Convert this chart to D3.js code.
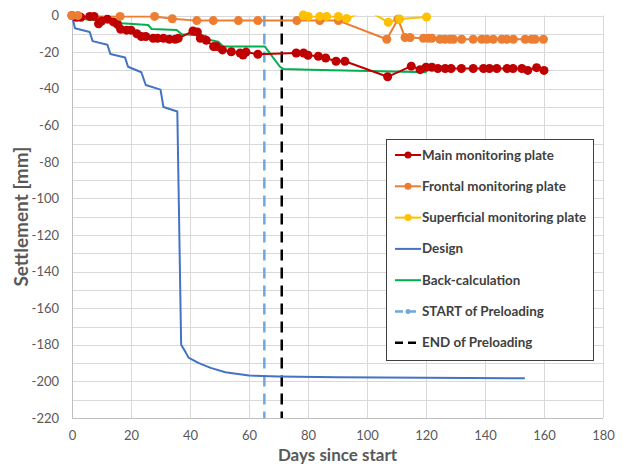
<html>
  <head>
    <meta charset="utf-8">
    <style>
      body {
        margin: 0;
        background: #fff;
        font-family: Lato, "Open Sans", sans-serif;
      }
      .tick text {
        fill: #595959;
        font-size: 13px;
      }
      .axis-title {
        fill: #595959;
        font-weight: bold;
        font-size: 17px;
        text-anchor: middle;
      }
      .legend-label {
        fill: #404040;
        font-weight: bold;
        font-size: 13.4px;
      }
    </style>
  </head>
  <body>
    <script src="https://d3js.org/d3.v7.min.js"></script>
    <script>
      // series as [day, settlement mm]
      const mainPlate = [
        [0, 0], [1.5, -1], [3, -1], [6, -0.5], [7.5, -0.5], [9, -4.5], [10, -3],
        [12, -2], [14, -3.5], [15.5, -5], [16.5, -7.5], [18.5, -8], [20, -8],
        [22, -10], [23.5, -11.5], [25, -11.5], [27.5, -12.5], [29, -12.5],
        [31, -12.5], [33, -13], [35, -13], [36, -12.5], [41, -8.5], [42.5, -9],
        [43.5, -12.5], [45.5, -13.5], [48, -17], [49, -17], [51, -18.8],
        [54, -19.8], [57, -20.5], [58, -21.6], [59, -20], [63, -21.2],
        [76, -20.5], [78.5, -20.5], [80, -21.7], [83.5, -22.3], [86, -23.2],
        [89.5, -25], [92.5, -25], [107, -33.5], [115, -27.7], [118, -29.6],
        [120, -28.3], [122, -28.3], [124, -29], [126.5, -29], [128.5, -29],
        [132, -29], [136, -29], [139.5, -29], [141.5, -29], [144, -29],
        [147.5, -29], [149.5, -29], [152.5, -29], [154.5, -30], [157.5, -28.5],
        [160, -30],
      ];
      const frontalPlate = [
        [0, 0], [2, 0], [16.3, -0.5], [28, -0.5], [34, -1.8], [42.3, -2.8],
        [47.9, -2.8], [56.4, -2.8], [63, -2.8], [76.2, -2.8], [84, -2.8],
        [90.3, -2.8], [106.7, -13], [110.5, -2], [112.9, -12], [114.6, -12],
        [119.1, -12.5], [120.8, -12.5], [122, -12.5], [124.7, -13], [126.4, -13],
        [128.1, -13], [129.3, -13], [132.1, -13], [136, -13], [138.9, -13],
        [140.6, -13], [142.8, -13], [145.7, -13], [147.4, -13], [149.6, -13],
        [153.6, -13], [155.8, -13], [157, -13], [159.8, -13],
      ];
      const superficialPlate = [
        [78.4, 0.3], [80.1, -0.5], [84, -0.5], [86.3, -0.5], [90.3, -0.5],
        [93.1, -1.7], [100, 3], [107.2, -3.7], [111, -1.9], [120.2, -0.8],
      ];
      const design = [
        [0, 0], [1, -7], [6, -9], [7, -14], [12, -16], [13, -21], [18, -23],
        [19, -28], [23.5, -31], [25, -38], [30, -40.5], [31, -50], [35.7, -52.5],
        [37, -180], [38.5, -184], [39.5, -187], [43, -190], [47, -192.6],
        [52, -195], [60, -196.8], [70, -197.3], [90, -197.7], [120, -198],
        [153.5, -198.3],
      ];
      const backCalc = [
        [0, 0], [2.7, -1.4], [6, -2.5], [15.7, -2.5], [16.8, -4.3], [25.9, -5.2],
        [27, -7.4], [35.5, -7.9], [37.2, -10.3], [45.1, -11], [46.8, -13.4],
        [49.6, -14.3], [51.3, -17], [65.4, -17], [70.5, -28], [71.6, -29.2],
        [80.7, -29.7], [120.2, -31],
      ];
      const preloadStart = 65.2;
      const preloadEnd = 71.1;

      const xTicks = [0, 20, 40, 60, 80, 100, 120, 140, 160, 180];
      const yTicks = [0, -20, -40, -60, -80, -100, -120, -140, -160, -180, -200, -220];
      const yGrid = d3.range(0, -221, -10);

      const legendItems = [
        { name: "Main monitoring plate", color: "#C00000", marker: true },
        { name: "Frontal monitoring plate", color: "#ED7D31", marker: true },
        { name: "Superficial monitoring plate", color: "#FFC000", marker: true },
        { name: "Design", color: "#4472C4" },
        { name: "Back-calculation", color: "#00B050" },
        { name: "START of Preloading", color: "#6FA8DC", dash: true, small: true },
        { name: "END of Preloading", color: "#000000", dash: true },
      ];

      const width = 623, height = 464;
      const margin = { left: 72, right: 20, top: 15.5, bottom: 46 };

      const svg = d3.select("body").append("svg")
        .attr("width", width).attr("height", height);

      const x = d3.scaleLinear().domain([0, 180]).range([margin.left, width - margin.right]);
      const y = d3.scaleLinear().domain([0, -220]).range([margin.top, height - margin.bottom]);

      svg.append("defs").append("clipPath").attr("id", "plot-clip")
        .append("rect")
        .attr("x", x(0)).attr("y", y(0))
        .attr("width", x(180) - x(0)).attr("height", y(-220) - y(0));

      // gridlines
      const grid = svg.append("g").attr("stroke", "#D9D9D9").attr("stroke-width", 1);
      yGrid.forEach((v) => {
        grid.append("line")
          .attr("x1", x(0)).attr("x2", x(180))
          .attr("y1", Math.round(y(v)) + 0.5).attr("y2", Math.round(y(v)) + 0.5);
      });
      xTicks.forEach((d) => {
        grid.append("line")
          .attr("x1", Math.round(x(d)) + 0.5).attr("x2", Math.round(x(d)) + 0.5)
          .attr("y1", y(0)).attr("y2", y(-220));
      });

      // axes
      const xAxis = svg.append("g")
        .attr("transform", `translate(0, ${y(-220) + 7})`)
        .call(d3.axisBottom(x).tickValues(xTicks).tickSize(0).tickPadding(6));
      xAxis.select(".domain").remove();

      const yAxis = svg.append("g")
        .attr("transform", `translate(${x(0) - 11}, 0)`)
        .call(d3.axisLeft(y).tickValues(yTicks).tickFormat((d) => String(d))
          .tickSize(0).tickPadding(2));
      yAxis.select(".domain").remove();
      svg.selectAll(".tick text").attr("font-family", "Lato, sans-serif");

      svg.append("line")
        .attr("x1", x(0)).attr("x2", x(180))
        .attr("y1", Math.round(y(-220)) + 0.5).attr("y2", Math.round(y(-220)) + 0.5)
        .attr("stroke", "#BFBFBF");
      svg.append("line")
        .attr("x1", Math.round(x(0)) + 0.5).attr("x2", Math.round(x(0)) + 0.5)
        .attr("y1", y(0)).attr("y2", y(-220))
        .attr("stroke", "#BFBFBF");

      svg.append("text").attr("class", "axis-title")
        .attr("x", (x(0) + x(180)) / 2).attr("y", 461)
        .text("Days since start");
      svg.append("text").attr("class", "axis-title")
        .attr("transform", `translate(28, ${(y(0) + y(-220)) / 2}) rotate(-90)`)
        .style("font-size", "19px")
        .text("Settlement [mm]");

      const line = d3.line().x((d) => x(d[0])).y((d) => y(d[1]));
      const plot = svg.append("g");
      const clipped = plot.append("g").attr("clip-path", "url(#plot-clip)");

      // preloading markers
      clipped.append("line")
        .attr("x1", x(preloadStart)).attr("x2", x(preloadStart))
        .attr("y1", y(0)).attr("y2", y(-220))
        .attr("stroke", "#6FA8DC").attr("stroke-width", 2.5)
        .attr("stroke-dasharray", "11,7");
      clipped.append("line")
        .attr("x1", x(preloadEnd)).attr("x2", x(preloadEnd))
        .attr("y1", y(0)).attr("y2", y(-220))
        .attr("stroke", "#000").attr("stroke-width", 2.5)
        .attr("stroke-dasharray", "11,7");

      function drawLine(data, color, w) {
        clipped.append("path").datum(data)
          .attr("fill", "none").attr("stroke", color)
          .attr("stroke-width", w).attr("stroke-linejoin", "round")
          .attr("d", line);
      }
      function drawDots(data, color) {
        plot.append("g").selectAll("circle")
          .data(data.filter((d) => d[1] <= 0.5))
          .join("circle")
          .attr("cx", (d) => x(d[0])).attr("cy", (d) => y(d[1]))
          .attr("r", 4.5).attr("fill", color);
      }

      drawLine(design, "#4472C4", 2);
      drawLine(backCalc, "#00B050", 2);
      drawLine(mainPlate, "#C00000", 2);
      drawLine(frontalPlate, "#ED7D31", 2);
      drawLine(superficialPlate, "#FFC000", 2);
      drawDots(mainPlate, "#C00000");
      drawDots(frontalPlate, "#ED7D31");
      drawDots(superficialPlate, "#FFC000");

      // legend
      const legend = svg.append("g");
      legend.append("rect")
        .attr("x", 386.5).attr("y", 139.5).attr("width", 207).attr("height", 221)
        .attr("fill", "#fff").attr("stroke", "#404040").attr("stroke-width", 1);
      legendItems.forEach((item, i) => {
        const ly = 155 + i * 31.3;
        const g = legend.append("g");
        g.append("line")
          .attr("x1", 395).attr("x2", 421).attr("y1", ly).attr("y2", ly)
          .attr("stroke", item.color).attr("stroke-width", item.dash ? 2.5 : 2)
          .attr("stroke-dasharray", item.dash ? "8,5" : null);
        if (item.marker) {
          g.append("circle").attr("cx", 408).attr("cy", ly).attr("r", 3.5)
            .attr("fill", item.color);
        }
        if (item.small) {
          g.append("circle").attr("cx", 408).attr("cy", ly).attr("r", 2.5)
            .attr("fill", item.color);
        }
        g.append("text").attr("class", "legend-label")
          .attr("x", 422).attr("y", ly + 4.5)
          .text(item.name);
      });
    </script>
  </body>
</html>
